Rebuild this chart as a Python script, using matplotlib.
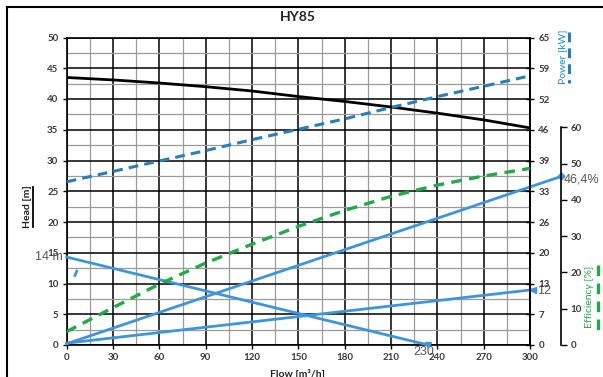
import numpy as np
import matplotlib
matplotlib.use("Agg")
import matplotlib.pyplot as plt
from matplotlib.lines import Line2D

# ---------------- data ----------------
flow = [0, 30, 60, 90, 120, 150, 180, 210, 240, 270, 300]
head_m = [43.5, 43.1, 42.6, 42.0, 41.3, 40.4, 39.6, 38.7, 37.7, 36.6, 35.3]
power_kw = [34.5, 36.7, 38.9, 41.1, 43.4, 45.6, 47.8, 50.2, 52.5, 54.7, 56.9]
efficiency_pct = [3.7, 10.3, 16.8, 22.6, 27.8, 32.7, 37.1, 41.0, 44.1, 46.6, 48.7]

# overlaid blue construction lines (head units)
line_eff_flow = [0, 320]
line_eff_head = [0.2, 27.4]
line_eff_label = "46,4%"
line_head_flow = [0, 234]
line_head_head = [14.3, 0]
line_head_label = "14 m"
line_flow_label = "230"
line_pow_flow = [0, 302]
line_pow_head = [0.3, 9.0]
line_pow_label = "12"
stray_flow = [5.3, 6.5]
stray_head = [11.3, 12.0]

x_ticks = [0, 30, 60, 90, 120, 150, 180, 210, 240, 270, 300]
head_ticks = [0, 5, 10, 15, 20, 25, 30, 35, 40, 45, 50]
power_tick_vals = [0, 6.5, 13, 19.5, 26, 32.5, 39, 45.5, 52, 58.5, 65]
power_tick_labels = ['0', '7', '13', '20', '26', '33', '39', '46', '52', '59', '65']
eff_ticks = [0, 10, 20, 30, 40, 50, 60]
eff_axis_top = 84.8  # efficiency value at head=50

title = "HY85"

# ---------------- style ----------------
W, H = 603, 377
BLUE = "#3e95dc"
PBLUE = "#2a7dbb"
GREEN = "#23a84a"
TICKC = "#3a3a3a"
FONT = ['Lato', 'DejaVu Sans']
plt.rcParams['font.family'] = FONT

fig = plt.figure(figsize=(W / 100, H / 100), dpi=100)
fig.patch.set_facecolor('white')

def fx(x):
    return x / W

def fy(y):
    return 1 - y / H

L, R, T, B = 66.7, 530, 37.5, 345
ax = fig.add_axes([fx(L), fy(B), (R - L) / W, (B - T) / H])
ax.set_xlim(0, 300)
ax.set_ylim(0, 50)
ax.set_xticks(x_ticks)
ax.set_xticks(np.arange(15, 300, 30), minor=True)
ax.set_yticks(head_ticks)
ax.set_yticks(np.arange(2.5, 50, 5), minor=True)
ax.grid(which='major', color='black', lw=1.1, zorder=1)
ax.grid(which='minor', color='#9a9a9a', lw=0.9, zorder=0)
ax.set_axisbelow(True)
ax.tick_params(which='major', length=3, width=1, pad=3, labelsize=7,
               colors='black', labelcolor=TICKC)
ax.tick_params(which='minor', length=0)
for lab in ax.get_xticklabels() + ax.get_yticklabels():
    lab.set_fontweight('bold')
for s in ax.spines.values():
    s.set_color('black')
    s.set_linewidth(1.2)

# power axis
axp = ax.twinx()
axp.set_ylim(0, 65)
axp.set_yticks(power_tick_vals)
axp.set_yticklabels(power_tick_labels)
axp.tick_params(axis='y', direction='inout', length=6, width=1, pad=3,
                labelsize=7, labelcolor=TICKC)
for lab in axp.get_yticklabels():
    lab.set_fontweight('bold')
for k in ['top', 'left', 'bottom']:
    axp.spines[k].set_visible(False)
axp.spines['right'].set_linewidth(1.2)

# efficiency axis
axe = ax.twinx()
axe.set_ylim(0, eff_axis_top)
axe.spines['right'].set_position(('axes', (561 - L) / (R - L)))
axe.spines['right'].set_bounds(0, 60)
axe.spines['right'].set_linewidth(1.2)
for k in ['top', 'left', 'bottom']:
    axe.spines[k].set_visible(False)
axe.set_yticks(eff_ticks)
axe.tick_params(axis='y', direction='out', length=4, width=1, pad=3,
                labelsize=7, labelcolor=TICKC)
for lab in axe.get_yticklabels():
    lab.set_fontweight('bold')

# curves
ax.plot(flow, head_m, color='black', lw=2.0, zorder=5)
axp.plot(flow, power_kw, color=PBLUE, lw=2.2, dashes=(3.2, 2.0), zorder=5)
axe.plot(flow, efficiency_pct, color=GREEN, lw=2.4, dashes=(3.2, 2.2), zorder=5)

# blue construction lines
ax.plot(line_eff_flow, line_eff_head, color=BLUE, lw=2.0, clip_on=False, zorder=6)
ax.plot(line_eff_flow[-1:], line_eff_head[-1:], marker='D', ms=3.5, color=BLUE,
        clip_on=False, zorder=6)
ax.plot(line_head_flow, line_head_head, color=BLUE, lw=2.0, clip_on=False, zorder=6)
ax.plot(line_head_flow[-1:], line_head_head[-1:], marker='v', ms=4, color=BLUE,
        clip_on=False, zorder=6)
ax.plot(line_pow_flow, line_pow_head, color=BLUE, lw=2.0, clip_on=False, zorder=6)
ax.plot(line_pow_flow[-1:], line_pow_head[-1:], marker='<', ms=4, color=BLUE,
        clip_on=False, zorder=6)
ax.plot(stray_flow, stray_head, color=BLUE, lw=2.0, zorder=6)

# annotation texts
ann = dict(family=['Liberation Sans', 'DejaVu Sans'], fontsize=9, color='#555555')
ax.annotate(line_head_label, xy=(line_head_flow[0], line_head_head[0]),
            xytext=(-3, 0), textcoords='offset points', ha='right', va='center',
            annotation_clip=False, **ann)
ax.annotate(line_flow_label, xy=(line_head_flow[-1], line_head_head[-1]),
            xytext=(-3, -5), textcoords='offset points', ha='center', va='center',
            annotation_clip=False, **ann)
ax.annotate(line_pow_label, xy=(line_pow_flow[-1], line_pow_head[-1]),
            xytext=(3, -1), textcoords='offset points', ha='left', va='center',
            annotation_clip=False, **ann)
ax.annotate(line_eff_label, xy=(line_eff_flow[-1], line_eff_head[-1]),
            xytext=(2, -2), textcoords='offset points', ha='left', va='center',
            annotation_clip=False, **ann)

# title & axis labels
fig.text(fx(298), fy(17), title, ha='center', va='center', fontsize=10,
         fontweight='bold', color='#222222')
fig.text(fx(298), fy(369), "Flow [m³/h]", ha='center', va='top', fontsize=7.5,
         fontweight='bold', color='#222222')
fig.text(fx(27), fy(207), "Head [m]", ha='center', va='center', rotation=90,
         fontsize=7.5, fontweight='bold', color='#222222')
fig.add_artist(Line2D([fx(33), fx(33)], [fy(187), fy(227)], color='black', lw=1.3,
                      transform=fig.transFigure))
fig.text(fx(563), fy(57), "Power [kW]", ha='center', va='center', rotation=90,
         fontsize=7.5, color='#1a8fd0')
fig.add_artist(Line2D([fx(568.5), fx(568.5)], [fy(32), fy(83)], color=PBLUE, lw=2.2,
                      dashes=(3.2, 2.0), transform=fig.transFigure))
fig.text(fx(589), fy(297), "Efficiency [%]", ha='center', va='center', rotation=90,
         fontsize=7.5, color=GREEN)
fig.add_artist(Line2D([fx(598), fx(598)], [fy(265), fy(333)], color=GREEN, lw=2.4,
                      dashes=(3.2, 2.2), transform=fig.transFigure))

# outer frame (top & left)
fig.add_artist(Line2D([fx(7), fx(603)], [fy(7), fy(7)], color='black', lw=1.5,
                      transform=fig.transFigure))
fig.add_artist(Line2D([fx(7), fx(7)], [fy(7), fy(377)], color='black', lw=1.5,
                      transform=fig.transFigure))

fig.savefig("out.png", dpi=100)
